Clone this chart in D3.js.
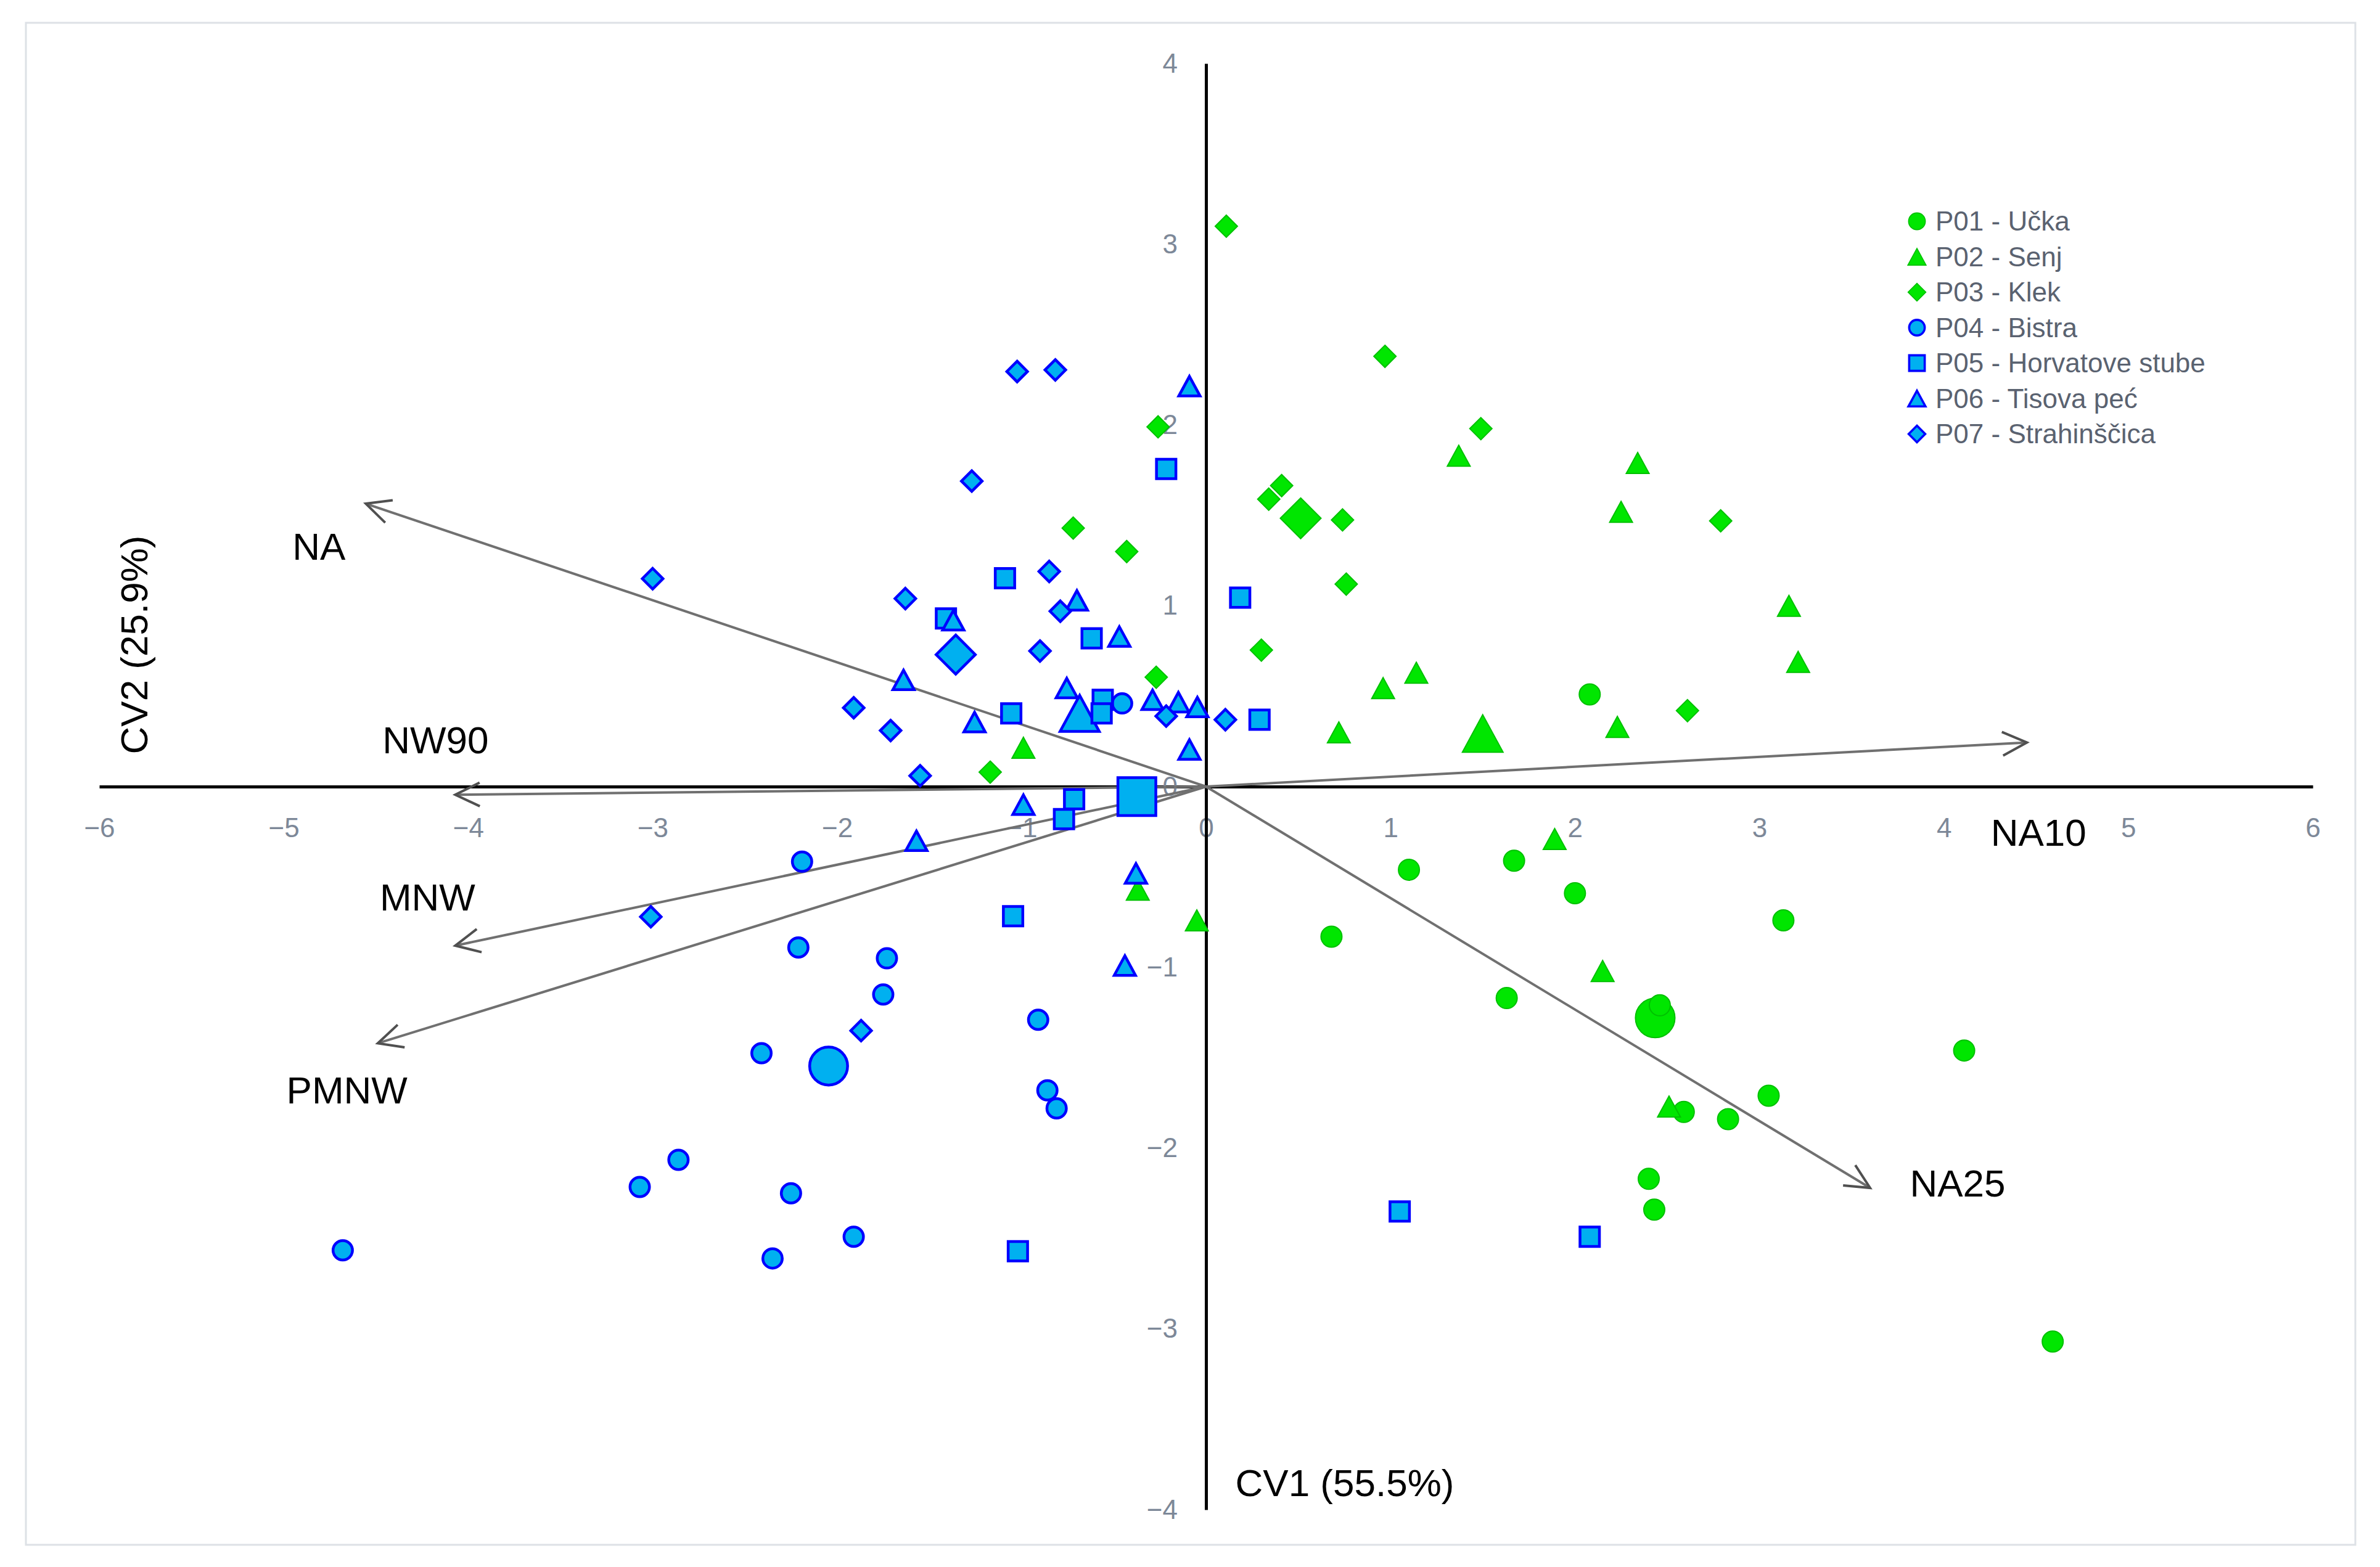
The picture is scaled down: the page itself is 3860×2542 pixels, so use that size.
<!DOCTYPE html>
<html>
<head>
<meta charset="utf-8">
<script src="https://cdn.jsdelivr.net/npm/d3@7"></script>
<style>
  body { margin: 0; background: #fff; }
  #graf { width: 3860px; height: 2542px; }
</style>
</head>
<body>
<div id="graf"></div>
<script>
// Grupos (poblaciones)
const grupos = ['P01 - Učka', 'P02 - Senj', 'P03 - Klek', 'P04 - Bistra',
                'P05 - Horvatove stube', 'P06 - Tisova peć', 'P07 - Strahinščica']

// Puntuaciones CV1 / CV2 de cada individuo
const p01x = [2.08, 1.10, 1.67, 2.00, 3.13, 0.68, 1.63, 2.46, 4.11, 3.05, 2.59, 2.83, 2.40, 2.43, 4.59]
const p01y = [0.51, -0.46, -0.41, -0.59, -0.74, -0.83, -1.17, -1.21, -1.46, -1.71, -1.80, -1.84, -2.17, -2.34, -3.07]
const p02x = [1.37, 2.34, 2.25, 3.16, 3.21, 1.14, 0.96, 0.72, 2.23, -0.99, 1.89, 2.15, -0.37, -0.05, 2.51]
const p02y = [1.83, 1.79, 1.52, 1.00, 0.69, 0.63, 0.545, 0.30, 0.33, 0.215, -0.29, -1.02, -0.57, -0.74, -1.77]
const p03x = [0.11, 0.97, 1.49, -0.26, 0.41, 0.34, 0.74, 2.79, -0.72, -0.43, 0.76, 0.30, -0.27, 2.61, -1.17]
const p03y = [3.10, 2.38, 1.98, 1.99, 1.665, 1.59, 1.475, 1.47, 1.43, 1.30, 1.12, 0.755, 0.605, 0.42, 0.08]
const p04x = [-0.455, -2.19, -2.21, -1.73, -1.75, -0.91, -2.41, -0.86, -0.81, -2.86, -3.07, -2.25, -1.91, -2.35, -4.68]
const p04y = [0.46, -0.415, -0.89, -0.95, -1.15, -1.29, -1.475, -1.68, -1.78, -2.065, -2.215, -2.25, -2.49, -2.61, -2.565]
const p05x = [-0.216, -1.09, 0.185, -1.41, -0.62, -1.056, -0.56, -0.566, 0.29, -0.715, -0.77, -1.046, 1.05, 2.08, -1.02]
const p05y = [1.757, 1.153, 1.045, 0.93, 0.82, 0.405, 0.48, 0.405, 0.37, -0.07, -0.18, -0.717, -2.35, -2.49, -2.57]
const p06x = [-0.09, -0.70, -1.37, -0.47, -1.64, -0.755, -1.255, -0.29, -0.15, -0.047, -0.09, -0.99, -1.57, -0.38, -0.44]
const p06y = [2.215, 1.03, 0.92, 0.83, 0.59, 0.545, 0.357, 0.48, 0.467, 0.44, 0.205, -0.10, -0.30, -0.48, -0.99]
const p07x = [-1.024, -0.817, -1.27, -0.85, -3.00, -1.63, -0.79, -0.90, -1.91, -1.71, -0.216, 0.105, -1.55, -3.01, -1.87]
const p07y = [2.296, 2.305, 1.69, 1.19, 1.15, 1.04, 0.97, 0.75, 0.436, 0.31, 0.39, 0.37, 0.06, -0.72, -1.35]

// Centroides de cada grupo
const centroX = [2.435, 1.50, 0.513, -2.046, -0.375, -0.685, -1.357]
const centroY = [-1.28, 0.294, 1.484, -1.546, -0.055, 0.405, 0.73]

// Vectores de las variables
const vectores = ['NA', 'NW90', 'MNW', 'PMNW', 'NA10', 'NA25']
const vectorX = [-4.555, -4.07, -4.07, -4.49, 4.45, 3.60]
const vectorY = [1.565, -0.045, -0.88, -1.42, 0.244, -2.22]

// Ticks de los ejes
const ticksX = [-6, -5, -4, -3, -2, -1, 0, 1, 2, 3, 4, 5, 6]
const ticksY = [-4, -3, -2, -1, 0, 1, 2, 3, 4]

// Estilo de cada grupo
const formas = ['circle', 'triangle', 'diamond', 'circle', 'square', 'triangle', 'diamond']
const verde = { fill: '#00e600', stroke: '#00c000', sw: 2 }
const azul  = { fill: '#00b0f0', stroke: '#0000ff', sw: 4.5 }
const estilos = [verde, verde, verde, azul, azul, azul, azul]
// desplazamiento de etiquetas de vectores respecto a la punta (px)
const despl = [[-76, 69], [-32, -90], [-45, -79], [-50, 75], [19, 145], [142, -8]]

const puntosX = [p01x, p02x, p03x, p04x, p05x, p06x, p07x]
const puntosY = [p01y, p02y, p03y, p04y, p05y, p06y, p07y]

const ancho_total = 3860, alto_total = 2542
const svg = d3.select('#graf').append('svg')
  .attr('width', ancho_total).attr('height', alto_total)
  .style('font-family', '"Liberation Sans", Arial, sans-serif')

svg.append('rect').attr('width', ancho_total).attr('height', alto_total).attr('fill', '#fff')
svg.append('rect')
   .attr('x', 42).attr('y', 37).attr('width', 3778).attr('height', 2469)
   .attr('fill', 'none').attr('stroke', '#dde1e6').attr('stroke-width', 3)

const x = d3.scaleLinear().domain([-6, 6]).range([161, 3751])
const y = d3.scaleLinear().domain([-4, 4]).range([2449, 103])

// Forma del marcador segun tipo y ancho
function forma(tipo, s) {
  if (tipo === 'circle') return d3.symbol(d3.symbolCircle, Math.PI * s * s / 4)()
  if (tipo === 'square') return d3.symbol(d3.symbolSquare, s * s)()
  if (tipo === 'diamond') { const h = s / 2; return `M0,${-h}L${h},0L0,${h}L${-h},0Z` }
  const h = s * 0.46, w = s / 2
  return `M0,${-h}L${w},${h}L${-w},${h}Z`
}
function ancho(tipo, grande, e) {
  let s = grande ? 64 : 34
  if (tipo === 'diamond') s = grande ? 66 : 36
  if (tipo === 'triangle') s = grande ? 66 : 37
  return s - (e.sw - 2)
}

// Ejes
const fuenteTick = '"Liberation Sans Narrow", "Liberation Sans", sans-serif'
const xAxisGroup = svg.append('g')
  .attr('transform', `translate(0, ${y(0)})`)
  .call(d3.axisBottom(x).tickValues(ticksX).tickSize(0).tickSizeOuter(0).tickPadding(51))
const yAxisGroup = svg.append('g')
  .attr('transform', `translate(${x(0)}, 0)`)
  .call(d3.axisLeft(y).tickValues(ticksY).tickSize(0).tickSizeOuter(0).tickPadding(46))
;[xAxisGroup, yAxisGroup].forEach(g => {
  g.select('.domain').attr('stroke', '#000').attr('stroke-width', 5)
  g.selectAll('text').attr('fill', '#7d8898').style('font-size', '44px').style('font-family', fuenteTick)
})

// Vectores
const gv = svg.append('g')
vectores.forEach((v, i) => {
  const x0 = x(0), y0 = y(0), x1 = x(vectorX[i]), y1 = y(vectorY[i])
  const ang = Math.atan2(y1 - y0, x1 - x0)
  const L = 44, a = 0.45
  gv.append('line').attr('x1', x0).attr('y1', y0).attr('x2', x1).attr('y2', y1)
    .attr('stroke', '#707070').attr('stroke-width', 4)
  gv.append('path')
    .attr('d', `M${x1 - L * Math.cos(ang - a)},${y1 - L * Math.sin(ang - a)}L${x1},${y1}L${x1 - L * Math.cos(ang + a)},${y1 - L * Math.sin(ang + a)}`)
    .attr('fill', 'none').attr('stroke', '#505050').attr('stroke-width', 4)
  gv.append('text')
    .attr('x', x1 + despl[i][0]).attr('y', y1 + despl[i][1])
    .attr('text-anchor', 'middle').attr('dy', '0.36em')
    .style('font-size', '62px').attr('fill', '#000')
    .text(v)
})

// Titulos de ejes
svg.append('text').attr('x', 2181).attr('y', 2405).attr('dy', '0.36em')
   .attr('text-anchor', 'middle').style('font-size', '62px').text('CV1 (55.5%)')
svg.append('text').attr('transform', 'translate(217, 1046) rotate(-90)').attr('dy', '0.36em')
   .attr('text-anchor', 'middle').style('font-size', '62px').text('CV2 (25.9%)')

// Centroides primero, luego individuos
const gm = svg.append('g')
grupos.forEach((gname, i) => {
  const e = estilos[i]
  gm.append('path')
    .attr('d', forma(formas[i], ancho(formas[i], true, e)))
    .attr('transform', `translate(${x(centroX[i])}, ${y(centroY[i])})`)
    .attr('fill', e.fill).attr('stroke', e.stroke).attr('stroke-width', e.sw)
})
grupos.forEach((gname, i) => {
  const e = estilos[i]
  const datos = puntosX[i].map((v, j) => ({ cx: v, cy: puntosY[i][j] }))
  gm.append('g').selectAll('path').data(datos).enter().append('path')
    .attr('d', forma(formas[i], ancho(formas[i], false, e)))
    .attr('transform', d => `translate(${x(d.cx)}, ${y(d.cy)})`)
    .attr('fill', e.fill).attr('stroke', e.stroke).attr('stroke-width', e.sw)
})

// Leyenda
const leyenda = svg.append('g').attr('transform', 'translate(3109, 359)')
grupos.forEach((gname, i) => {
  const e = estilos[i]
  const fila = leyenda.append('g').attr('transform', `translate(0, ${i * 57.5})`)
  fila.append('path')
    .attr('d', forma(formas[i], ancho(formas[i], false, e) * 0.8))
    .attr('fill', e.fill).attr('stroke', e.stroke).attr('stroke-width', e.sw * 0.8)
  fila.append('text').attr('x', 30).attr('dy', '0.35em')
    .style('font-size', '44px').style('font-family', fuenteTick)
    .attr('fill', '#5a6270').text(gname)
})
</script>
</body>
</html>
